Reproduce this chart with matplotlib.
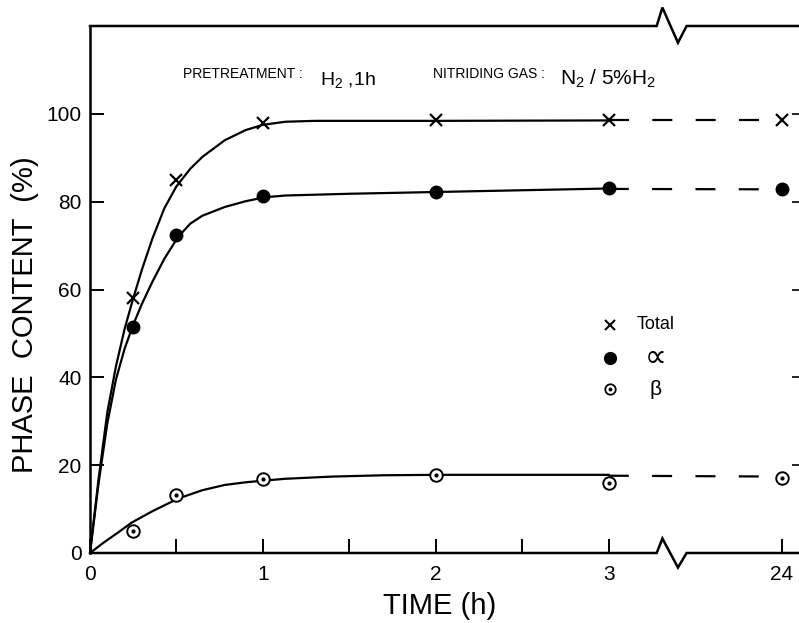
import matplotlib
matplotlib.use("Agg")
import matplotlib.pyplot as plt

plt.rcParams["font.family"] = ["Liberation Sans", "DejaVu Sans"]
plt.rcParams["mathtext.fontset"] = "custom"
plt.rcParams["mathtext.rm"] = "Liberation Sans"
plt.rcParams["mathtext.it"] = "Liberation Sans"

# measured points (time in h, the 24 h point sits after the axis break)
time_h = [0.25, 0.5, 1, 2, 3, 24]
total = [58, 85, 98, 98.5, 98.5, 98.5]
alpha = [51.5, 72.5, 81.2, 82.2, 83.0, 82.8]
beta = [5.0, 13.3, 16.8, 17.8, 16.0, 17.0]

# hand drawn fit curves
fit_t_total = [0, .05, .1, .15, .2, .25, .3, .36, .43, .5, .58, .65, .78, .9, 1.0, 1.13, 1.3, 2, 3]
fit_total = [0, 17, 32, 42.5, 51, 58, 64.5, 71.5, 78.5, 83.5, 87.5, 90.2, 94, 96.3, 97.5, 98.2, 98.4, 98.4, 98.5]
fit_t_alpha = [0, .05, .1, .15, .2, .25, .3, .36, .43, .51, .58, .65, .78, .9, 1.01, 1.13, 1.5, 2, 3]
fit_alpha = [0, 16, 29.5, 39.5, 46.5, 52, 56.7, 61.7, 67, 72, 75, 76.8, 78.8, 80.1, 81.0, 81.4, 81.8, 82.2, 83.0]
fit_t_beta = [0, .08, .16, .24, .36, .51, .65, .78, .9, 1.01, 1.13, 1.4, 1.7, 2, 3]
fit_beta = [0, 2.4, 4.6, 6.9, 9.5, 12.4, 14.3, 15.5, 16.1, 16.5, 16.9, 17.4, 17.7, 17.8, 17.8]

# dashed extension from 3 h to 24 h
ext_t = [3, 24]
ext_total = [98.5, 98.5]
ext_alpha = [82.9, 82.8]
ext_beta = [17.6, 17.4]

tick_pos = [0, 1, 2, 3, 4]
tick_labels = ["0", "1", "2", "3", "24"]
minor_pos = [0.5, 1.5, 2.5]
y_ticks = [0, 20, 40, 60, 80, 100]

BREAK_X = [3.277, 3.31, 3.40, 3.45]


def bx(ts):
    # position on the broken axis: 24 h drawn one unit after 3 h
    return [t if t <= 3 else 4 for t in ts]


fig = plt.figure(figsize=(7.99, 6.23), dpi=100)
ax = fig.add_axes([90 / 799, 70 / 623, 709 / 799, 527 / 623])
ax.set_xlim(0, 4.1)
ax.set_ylim(0, 120)

lw = 1.6
ax.plot(fit_t_total, fit_total, color="k", lw=lw)
ax.plot(fit_t_alpha, fit_alpha, color="k", lw=lw)
ax.plot(fit_t_beta, fit_beta, color="k", lw=lw)
for ext in (ext_total, ext_alpha, ext_beta):
    ax.plot(bx(ext_t), ext, color="k", lw=lw, dashes=(9, 10.5))

ax.plot(bx(time_h), total, "x", color="k", ms=8, mew=1.6, zorder=5)
ax.plot(bx(time_h), alpha, "o", color="k", ms=9, zorder=5)
ax.plot(bx(time_h), beta, "o", mfc="white", mec="k", ms=9, mew=1.4, zorder=5)
ax.plot(bx(time_h), beta, "o", color="k", ms=2, zorder=6)

# axes frame with breaks
for s in ("top", "bottom", "right"):
    ax.spines[s].set_visible(False)
ax.spines["left"].set_linewidth(1.8)
xa, xb, xc, xd = BREAK_X
ax.plot([0, xa, xb, xc, xd, 4.1], [120, 120, 124.2, 116.2, 120, 120],
        color="k", lw=1.8, clip_on=False, solid_joinstyle="miter")
ax.plot([0, xa, xb, xc, xd, 4.1], [0, 0, 3.3, -3.3, 0, 0],
        color="k", lw=1.8, clip_on=False, solid_joinstyle="miter")

ax.set_xticks(tick_pos)
ax.set_xticklabels(tick_labels)
ax.set_xticks(minor_pos, minor=True)
ax.set_yticks(y_ticks)
ax.tick_params(which="both", direction="in", length=10, width=1.4,
               labelsize=15, pad=6)
ax.tick_params(axis="x", which="both", pad=9)

sec = ax.secondary_yaxis("right")
sec.set_yticks(y_ticks)
sec.tick_params(direction="in", length=5, width=1.2, labelright=False)
sec.spines["right"].set_visible(False)

fig.text(25 / 799, 1 - 315 / 623, "PHASE  CONTENT  (%)", rotation=90,
         ha="center", va="center", fontsize=21)
fig.text(440 / 799, 1 - 606 / 623, "TIME (h)", ha="center", va="center",
         fontsize=21)

# header
def ptxt(px, py, s, size):
    fig.text(px / 799, 1 - py / 623, s, ha="left", va="baseline", fontsize=size,
             family=["Liberation Sans Narrow", "Liberation Sans", "DejaVu Sans"])

ptxt(183, 78, "PRETREATMENT :", 10)
ptxt(320, 85, "H$_2$ ,1h", 14)
ptxt(433, 78, "NITRIDING GAS :", 10)
ptxt(560, 85, "N$_2$ / 5%H$_2$", 15)

# key
lx, tx = 0.733, 0.798
rows = [0.433, 0.370, 0.311]
ax.plot([lx], [rows[0]], "x", color="k", ms=7, mew=1.5, transform=ax.transAxes)
ax.plot([lx], [rows[1]], "o", color="k", ms=8.5, transform=ax.transAxes)
ax.plot([lx], [rows[2]], "o", mfc="white", mec="k", ms=7.5, mew=1.3, transform=ax.transAxes)
ax.plot([lx], [rows[2]], "o", color="k", ms=1.8, transform=ax.transAxes)
ax.text(tx, rows[0], "Total", ha="center", va="center", fontsize=13, transform=ax.transAxes)
ax.text(tx, rows[1], "\u221d", ha="center", va="center", fontsize=22, transform=ax.transAxes)
ax.text(tx, rows[2], "\u03b2", ha="center", va="center", fontsize=15, transform=ax.transAxes)

fig.savefig("out.png", dpi=100)
